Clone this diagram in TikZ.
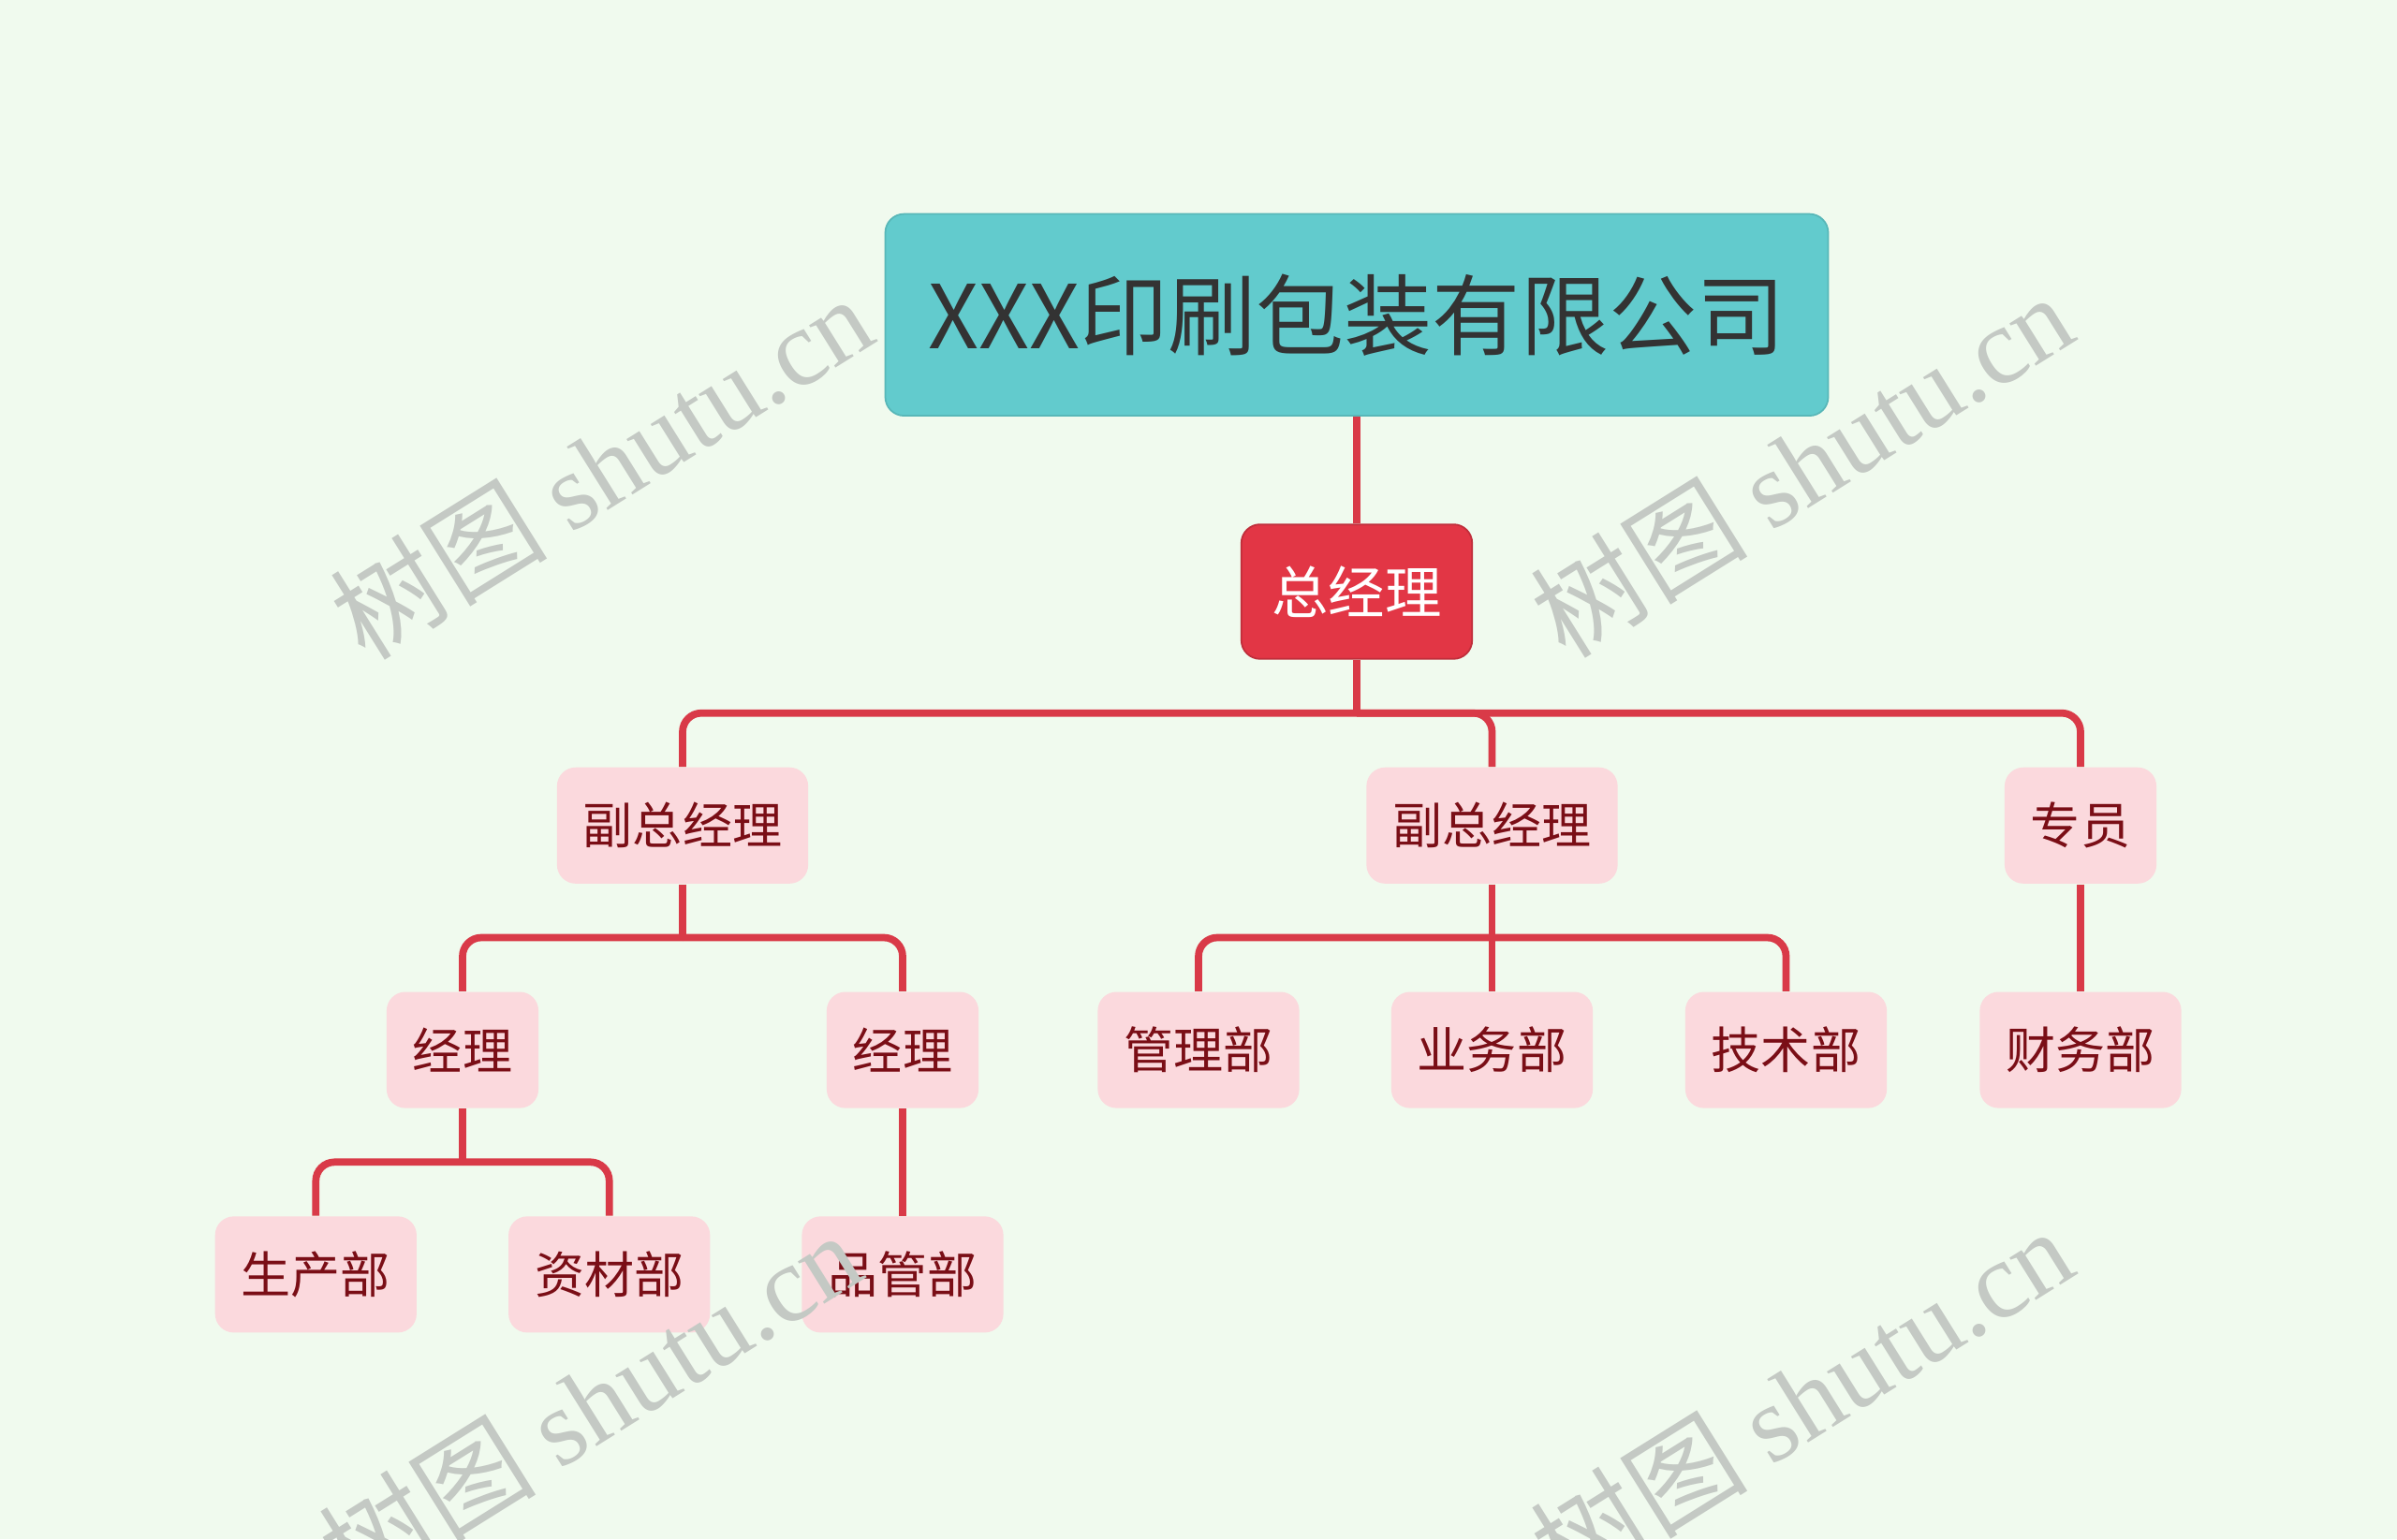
\documentclass[tikz,border=0pt]{standalone}
\usepackage{fontspec}
\setmainfont{Noto Sans CJK SC}
\newfontfamily\wmfont{Liberation Serif}
\usetikzlibrary{positioning}
\definecolor{bgcolor}{RGB}{240,250,238}
\definecolor{rootfill}{RGB}{98,203,205}
\definecolor{ceofill}{RGB}{226,54,69}
\definecolor{boxfill}{RGB}{251,217,221}
\definecolor{boxtext}{RGB}{122,14,22}
\definecolor{linkred}{RGB}{217,58,72}
\definecolor{wmgray}{RGB}{196,201,196}

\tikzset{
  rootbox/.style={rectangle, rounded corners=0.2cm, fill=rootfill, draw=rootfill!90!black, line width=0.5pt, minimum width=10.07cm, minimum height=2.155cm, text=black!80, font=\fontsize{26.8}{28}\selectfont},
  ceobox/.style={rectangle, rounded corners=0.2cm, fill=ceofill, draw=ceofill!85!black, line width=0.5pt, minimum width=2.465cm, minimum height=1.437cm, text=white, font=\fontsize{17.2}{18}\selectfont},
  deptbox/.style={rectangle, rounded corners=0.2cm, fill=boxfill, minimum height=1.241cm, inner xsep=0.28cm, text=boxtext, font=\fontsize{15.1}{16}\selectfont},
  link/.style={draw=linkred, line width=2.2pt, rounded corners=0.2cm},
  watermark/.style={text=wmgray, rotate=32, font=\fontsize{33}{34}\selectfont}
}

\begin{document}
\begin{tikzpicture}[node distance=1.143cm]
    \fill[bgcolor] (0,0) rectangle (25.6,-16.44);
    \useasboundingbox (0,0) rectangle (25.6,-16.44);

    % top of the tree
    \node[rootbox] (company) at (14.49,-3.363) {XXX印刷包装有限公司};
    \node[ceobox, below=of company] (gm) {总经理};

    % second level
    \node[deptbox, below=of gm, xshift=-7.20cm] (vpa) {副总经理};
    \node[deptbox, below=of gm, xshift=1.445cm] (vpb) {副总经理};
    \node[deptbox, below=of gm, xshift=7.73cm] (spec) {专员};

    % third level
    \node[deptbox, below=of vpa, xshift=-2.35cm] (mga) {经理};
    \node[deptbox, below=of vpa, xshift=2.35cm] (mgb) {经理};
    \node[deptbox, below=of vpb, xshift=-3.135cm] (admin) {管理部};
    \node[deptbox, below=of vpb] (sales) {业务部};
    \node[deptbox, below=of vpb, xshift=3.14cm] (tech) {技术部};
    \node[deptbox, below=of spec] (finance) {财务部};

    % fourth level
    \node[deptbox, below=of mga, xshift=-1.567cm] (prod) {生产部};
    \node[deptbox, below=of mga, xshift=1.567cm] (material) {资材部};
    \node[deptbox, below=of mgb] (quality) {品管部};

    % connectors
    \coordinate (gm-j) at ([yshift=-0.57cm]gm.south);
    \coordinate (vpa-j) at ([yshift=-0.57cm]vpa.south);
    \coordinate (vpb-j) at ([yshift=-0.57cm]vpb.south);
    \coordinate (mga-j) at ([yshift=-0.57cm]mga.south);

    \draw[link] (company) -- (gm);
    \draw[link] (gm.south) -- (gm-j);
    \draw[link] (gm-j) -| (vpa.north);
    \draw[link] (gm-j) -| (vpb.north);
    \draw[link] (gm-j) -| (spec.north);

    \draw[link] (vpa.south) -- (vpa-j);
    \draw[link] (vpa-j) -| (mga.north);
    \draw[link] (vpa-j) -| (mgb.north);

    \draw[link] (vpb.south) -- (sales.north);
    \draw[link] (vpb-j) -| (admin.north);
    \draw[link] (vpb-j) -| (tech.north);

    \draw[link] (spec) -- (finance);

    \draw[link] (mga.south) -- (mga-j);
    \draw[link] (mga-j) -| (prod.north);
    \draw[link] (mga-j) -| (material.north);

    \draw[link] (mgb) -- (quality);

    % watermarks
    \node[watermark] (wma) at (6.42,-4.98) {树图 {\wmfont shutu.cn}};
    \node[watermark] (wmb) at (19.24,-4.96) {树图 {\wmfont shutu.cn}};
    \node[watermark] (wmc) at (6.30,-14.98) {树图 {\wmfont shutu.cn}};
    \node[watermark] (wmd) at (19.24,-14.94) {树图 {\wmfont shutu.cn}};
\end{tikzpicture}
\end{document}
